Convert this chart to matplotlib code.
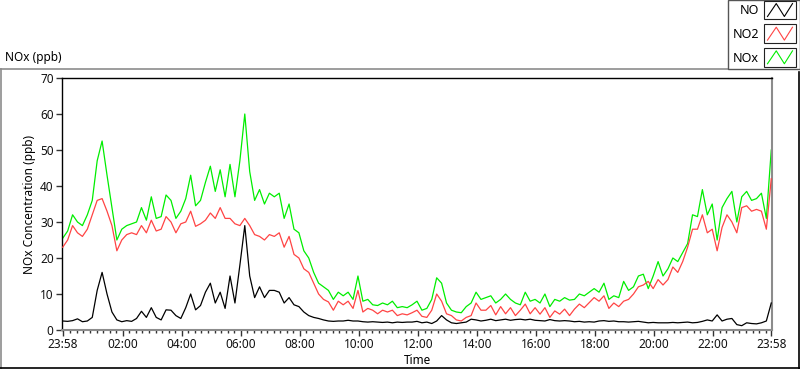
import numpy as np
import matplotlib
matplotlib.use("Agg")
import matplotlib.pyplot as plt
from matplotlib.lines import Line2D
from matplotlib.patches import Rectangle
from matplotlib.legend_handler import HandlerBase

plt.rcParams['font.family'] = ['Noto Sans', 'DejaVu Sans']
plt.rcParams['font.size'] = 8.5

# minutes after 23:58, one reading every 10 min
minutes = np.arange(0, 1441, 10)

no = [2.5, 2.4, 2.6, 3.1, 2.3, 2.5, 3.5, 11, 16, 10,
      5, 2.8, 2.3, 2.6, 2.4, 3.2, 5.2, 3.5, 6.2, 3.5,
      2.8, 5.6, 5.5, 4, 3.2, 6.2, 10, 5.6, 6.8, 10.5,
      13, 7.5, 10.5, 6, 15, 7.5, 18, 29, 15, 9,
      12, 9, 11, 11, 10.5, 7.5, 9, 7, 6.5, 5,
      4, 3.5, 3.2, 2.8, 2.5, 2.4, 2.5, 2.5, 2.7, 2.5,
      2.5, 2.3, 2.2, 2.3, 2.2, 2.1, 2.2, 2, 2.2, 2.1,
      2.2, 2.2, 2.4, 2.0, 2.2, 1.8, 2.5, 4, 2.8, 2.0,
      1.8, 2.0, 2.2, 3.0, 2.8, 2.5, 2.7, 3.0, 2.6, 2.8,
      3.0, 2.7, 2.9, 3.0, 2.8, 3.0, 2.7, 2.6, 2.5, 2.9,
      2.6, 2.5, 2.6, 2.5, 2.3, 2.4, 2.2, 2.3, 2.2, 2.5,
      2.6, 2.4, 2.5, 2.3, 2.3, 2.2, 2.3, 2.4, 2.2, 2.0,
      2.1, 2.0, 2.0, 2.0, 2.1, 2.0, 2.1, 2.2, 2.0, 2.1,
      2.4, 2.8, 2.5, 4.2, 2.5, 3.0, 3.2, 1.5, 1.2, 2.0,
      1.8, 1.7, 2.0, 2.5, 7.5]

no2 = [23, 25, 29, 27, 26, 28, 32, 36, 36.5, 33,
       29, 22, 25, 26.5, 27, 26.5, 29, 27, 30.5, 27.5,
       28, 31.5, 30, 27, 29.5, 30, 33, 28.8, 29.5, 30.5,
       32.5, 31, 34, 31, 31, 29.5, 29, 31, 29, 26.5,
       26, 25, 26.5, 26, 27, 23, 26, 21, 20, 17,
       16, 13, 10, 8.5, 7.8, 5.5, 8, 7, 8, 6,
       11, 5, 6, 5.5, 4.5, 5.5, 5, 5.5, 4, 4.5,
       4.2, 4.8, 5.5, 3.8, 3.5, 5.5, 10, 8, 4.5, 4,
       2.8, 2.5, 3.5, 4, 7.5, 5.5, 5.5, 6.8, 4.2, 6.5,
       4.5, 6.2, 4, 5.5, 7.2, 4.5, 6.2, 4.4, 6.2, 3.5,
       5.3, 4.4, 5.8, 4, 5.8, 7.2, 6.2, 7.6, 9, 8,
       9.5, 6, 7.5, 6.5, 8, 8.5, 10, 12, 12.5, 13.5,
       11.5, 14, 12.5, 14, 17.5, 16, 19, 23, 28, 28,
       32, 27, 28, 22, 28.5, 32, 30, 27, 34, 34.5,
       33, 33.5, 33, 28, 42]

nox = [25.5, 27.5, 32, 30, 29, 32, 36, 47, 52.5, 43,
       34, 25, 28, 29, 29.5, 30, 34, 30.5, 37, 31,
       31.5, 37.5, 36, 31, 33, 36.5, 43, 34.5, 36, 41,
       45.5, 38.5, 44.5, 37, 46, 37, 47, 60, 44, 36,
       39, 35, 38, 37, 38, 31, 35, 28, 27, 22,
       20, 16, 13, 12, 11, 8.5, 10.5, 9.5, 10.5, 8.5,
       15, 8, 8.5, 7, 6.8, 7.5, 7, 8, 6.2, 6.5,
       6.2, 7, 8, 5.5, 6, 8.5, 14.5, 13, 7.5, 5.5,
       5, 4.8, 6.5, 7.5, 10.5, 8.5, 9, 9.5, 7.5, 8.5,
       10, 8.5, 7.5, 7, 10.5, 8, 8.5, 7.5, 10, 6.5,
       8.5, 8, 9, 8.3, 8.5, 10, 9.5, 10.5, 11.5, 10.5,
       13, 8.5, 9.5, 9, 13.5, 11, 12, 15, 15.5, 11.5,
       15, 19, 15, 17, 20, 19, 21.5, 24, 32, 31.5,
       39, 32, 35, 25, 34, 36.5, 38.5, 30, 37, 38.5,
       36, 36.5, 38, 31, 50]

tick_pos = [0, 122, 242, 362, 482, 602, 722, 842, 962, 1082, 1202, 1322, 1440]
tick_labels = ['23:58', '02:00', '04:00', '06:00', '08:00', '10:00', '12:00',
               '14:00', '16:00', '18:00', '20:00', '22:00', '23:58']


class ZigzagHandler(HandlerBase):
    # LabVIEW style plot legend glyph: a framed little zigzag
    def create_artists(self, legend, orig_handle, xdescent, ydescent,
                       width, height, fontsize, trans):
        x0, y0 = -xdescent, -ydescent - 0.32 * height
        h = height * 1.65
        box = Rectangle((x0, y0), width, h, fill=False, ec='#222222',
                        lw=0.8, transform=trans)
        px = x0 + width * np.array([0.1, 0.38, 0.64, 0.9])
        py = y0 + h * np.array([0.15, 0.85, 0.15, 0.85])
        zig = Line2D(px, py, color=orig_handle.get_color(), lw=0.8,
                     transform=trans)
        return [box, zig]


fig = plt.figure(figsize=(8, 3.69), dpi=100)
ax = fig.add_axes([62 / 800, 1 - 330 / 369, 710 / 800, 252 / 369])

l_nox, = ax.plot(minutes, nox, color='#00ee00', lw=0.9, zorder=2)
l_no2, = ax.plot(minutes, no2, color='#ff4444', lw=0.9, zorder=3)
l_no, = ax.plot(minutes, no, color='black', lw=0.9, zorder=4)

ax.set_xlim(-1.5, 1441.5)
ax.set_ylim(0, 70)
ax.set_yticks(range(0, 71, 10))
ax.set_xticks(tick_pos)
ax.set_xticklabels(tick_labels)
minor = 2 + np.arange(0, 108) * 120 / 9
minor = [m for m in minor if 0 < m < 1440 and min(abs(m - t) for t in tick_pos) > 4]
ax.set_xticks(minor, minor=True)
ax.tick_params(axis='both', which='major', direction='out', length=4,
               width=1, color='#333333', labelcolor='#111111', pad=2)
ax.tick_params(axis='x', which='minor', direction='out', length=2.5,
               width=1, color='#333333')

for side in ['left', 'top']:
    ax.spines[side].set_color('black')
    ax.spines[side].set_linewidth(1)
for side in ['right', 'bottom']:
    ax.spines[side].set_color('#8c8c8c')
    ax.spines[side].set_linewidth(1.5)

ax.set_ylabel('NOx Concentration (ppb)', labelpad=3)
ax.set_xlabel('Time', labelpad=2)

# outer panel edges
fig.add_artist(Line2D([0, 730 / 800], [1 - 69 / 369] * 2, color='#8c8c8c', lw=1.2))
fig.add_artist(Line2D([0.001, 0.001], [0, 1 - 69 / 369], color='#8c8c8c', lw=1.2))
fig.add_artist(Line2D([0, 1], [0.002, 0.002], color='black', lw=1.2))
fig.add_artist(Line2D([0.999, 0.999], [0, 1 - 72 / 369], color='black', lw=1.2))
fig.text(5 / 800, 1 - 58 / 369, 'NOx (ppb)', ha='left', va='center')

leg = fig.legend([l_no, l_no2, l_nox], ['NO', 'NO2', 'NOx'],
                 loc='upper right', bbox_to_anchor=(1.0, 1.0),
                 markerfirst=False, handler_map={Line2D: ZigzagHandler()},
                 handlelength=2.5, handleheight=1.0, labelspacing=0.85,
                 handletextpad=0.45, borderpad=0.35, borderaxespad=0,
                 fancybox=False, edgecolor='#555555', framealpha=1,
                 fontsize=9)
leg.get_frame().set_linewidth(1)

fig.savefig('out.png', dpi=100)
